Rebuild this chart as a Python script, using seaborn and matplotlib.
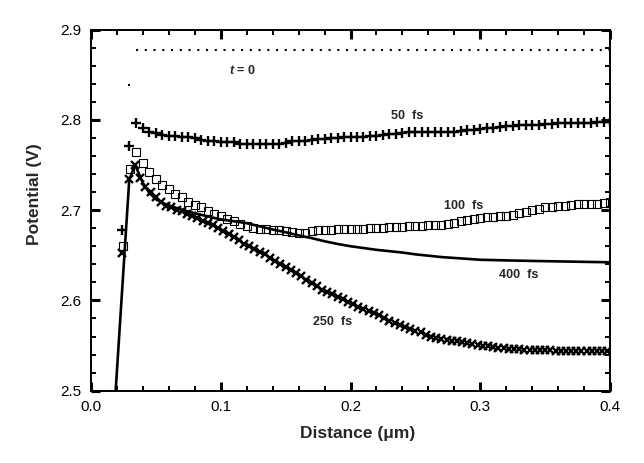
import numpy as np
import seaborn as sns
import matplotlib
matplotlib.use("Agg")
import matplotlib.pyplot as plt
from matplotlib.ticker import MultipleLocator, FormatStrFormatter

# t = 0 reference level
t0_x = [0.035, 0.4]
t0_y = [2.877, 2.877]

# 50 fs (+)
fs50_x = np.round(np.concatenate([[0.024, 0.029], np.arange(0.035, 0.4001, 0.005)]), 3)
fs50_y = [2.678, 2.771,
          2.797, 2.791, 2.787, 2.785, 2.783, 2.782, 2.782, 2.781, 2.781, 2.780,
          2.778, 2.776, 2.776, 2.775, 2.775, 2.775, 2.7735, 2.7733, 2.7733, 2.7733,
          2.7733, 2.773, 2.773, 2.774, 2.776, 2.776, 2.777, 2.778, 2.779, 2.779,
          2.780, 2.780, 2.781, 2.7815, 2.7815, 2.7815, 2.782, 2.7825, 2.783, 2.784,
          2.7845, 2.785, 2.786, 2.786, 2.786, 2.786, 2.786, 2.786, 2.7866, 2.787,
          2.788, 2.789, 2.789, 2.790, 2.791, 2.791, 2.792, 2.793, 2.793, 2.794,
          2.7944, 2.7944, 2.7944, 2.795, 2.7955, 2.796, 2.796, 2.797, 2.797, 2.797,
          2.797, 2.798, 2.798, 2.798]
fs50_dot_x = [0.0294]
fs50_dot_y = [2.839]

# 100 fs (open squares)
fs100_x = np.round(np.arange(0.025, 0.4001, 0.005), 3)
fs100_y = [2.660, 2.745, 2.764, 2.752, 2.742, 2.734, 2.728, 2.723, 2.718, 2.714,
           2.709, 2.706, 2.703, 2.699, 2.696, 2.693, 2.690, 2.688, 2.685, 2.682,
           2.680, 2.679, 2.679, 2.678, 2.678, 2.677, 2.676, 2.675, 2.675, 2.677,
           2.6775, 2.678, 2.6785, 2.679, 2.679, 2.679, 2.679, 2.679, 2.680, 2.680,
           2.6805, 2.681, 2.681, 2.6815, 2.682, 2.682, 2.682, 2.683, 2.683, 2.684,
           2.685, 2.686, 2.688, 2.6895, 2.690, 2.691, 2.692, 2.6925, 2.693, 2.694,
           2.695, 2.6965, 2.698, 2.700, 2.7015, 2.703, 2.7035, 2.704, 2.705, 2.706,
           2.7063, 2.7066, 2.707, 2.7073, 2.708, 2.7085]

# 250 fs (x)
fs250_x = np.round(np.concatenate([[0.024, 0.029, 0.034], np.arange(0.038, 0.3981, 0.004)]), 3)
fs250_y = [2.652, 2.734, 2.750,
           2.736, 2.726, 2.720, 2.714, 2.709, 2.705, 2.703, 2.7005, 2.699, 2.696,
           2.694, 2.691, 2.688, 2.686, 2.683, 2.680, 2.677, 2.674, 2.6705, 2.667,
           2.663, 2.660, 2.657, 2.654, 2.651, 2.647, 2.644, 2.6405, 2.6375, 2.634,
           2.6305, 2.627, 2.6225, 2.619, 2.6155, 2.612, 2.609, 2.607, 2.604, 2.601,
           2.598, 2.5955, 2.593, 2.591, 2.588, 2.586, 2.5835, 2.580, 2.577, 2.5745,
           2.5725, 2.570, 2.568, 2.5665, 2.5645, 2.562, 2.560, 2.5585, 2.5575, 2.5565,
           2.5555, 2.5545, 2.5535, 2.553, 2.552, 2.551, 2.550, 2.549, 2.548, 2.5475,
           2.547, 2.5465, 2.546, 2.5458, 2.5455, 2.5452, 2.545, 2.5448, 2.5447, 2.5446,
           2.5445, 2.5443, 2.5441, 2.544, 2.5439, 2.5438, 2.5437, 2.5436, 2.5436, 2.5435,
           2.5435]

# 400 fs (solid line)
fs400_x = [0.019, 0.0295, 0.034, 0.040, 0.045, 0.050, 0.055, 0.060, 0.070, 0.080,
           0.090, 0.100, 0.110, 0.120, 0.130, 0.140, 0.150, 0.160, 0.170, 0.180,
           0.190, 0.200, 0.210, 0.220, 0.230, 0.240, 0.250, 0.260, 0.270, 0.280,
           0.290, 0.300, 0.320, 0.340, 0.360, 0.380, 0.400]
fs400_y = [2.500, 2.734, 2.750, 2.730, 2.719, 2.712, 2.708, 2.705, 2.7005, 2.6965,
           2.693, 2.6897, 2.6877, 2.6855, 2.682, 2.6785, 2.6755, 2.672, 2.669, 2.6655,
           2.6625, 2.660, 2.658, 2.656, 2.6545, 2.653, 2.651, 2.6495, 2.648, 2.647,
           2.646, 2.645, 2.6443, 2.6437, 2.6432, 2.6427, 2.6422]

sns.set_style("ticks")
plt.rcParams['font.family'] = ['Liberation Sans', 'DejaVu Sans']
plt.rcParams['mathtext.fontset'] = 'custom'
plt.rcParams['mathtext.it'] = 'Liberation Sans:italic:bold'

fig = plt.figure(figsize=(6.44, 4.63), dpi=100)
ax = fig.add_axes([91 / 644, 1 - 390.7 / 463, 519 / 644, 361.2 / 463])

sns.lineplot(x=t0_x, y=t0_y, ax=ax, color='k', lw=1.5, dashes=False,
             linestyle=(0, (1, 3.2)), estimator=None, sort=False)
sns.lineplot(x=fs400_x, y=fs400_y, ax=ax, color='k', lw=1.9, estimator=None, sort=False)
sns.lineplot(x=fs250_x, y=fs250_y, ax=ax, color='k', linestyle='', marker='x',
             markersize=5.2, markeredgewidth=1.7, markeredgecolor='k',
             estimator=None, sort=False)
sns.lineplot(x=fs100_x, y=fs100_y, ax=ax, color='k', linestyle='', marker='s',
             markersize=5.2, markeredgewidth=0.8, markeredgecolor='k',
             markerfacecolor='none', estimator=None, sort=False)
sns.lineplot(x=fs50_x, y=fs50_y, ax=ax, color='k', linestyle='', marker='+',
             markersize=6.5, markeredgewidth=1.7, markeredgecolor='k',
             estimator=None, sort=False)
sns.lineplot(x=fs50_dot_x, y=fs50_dot_y, ax=ax, color='k', linestyle='', marker='s',
             markersize=1.8, markeredgewidth=0, estimator=None, sort=False)

ax.set_xlim(0, 0.4)
ax.set_ylim(2.5, 2.9)
ax.xaxis.set_major_locator(MultipleLocator(0.1))
ax.xaxis.set_minor_locator(MultipleLocator(0.02))
ax.yaxis.set_major_locator(MultipleLocator(0.1))
ax.yaxis.set_minor_locator(MultipleLocator(0.02))
ax.xaxis.set_major_formatter(FormatStrFormatter('%.1f'))
ax.yaxis.set_major_formatter(FormatStrFormatter('%.1f'))
ax.tick_params(which='both', direction='in', top=True, right=True, colors='k',
               labelsize=11)
ax.tick_params(which='major', length=6.5, width=2.2, pad=7)
ax.tick_params(which='minor', length=3.3, width=1.4)
for s in ax.spines.values():
    s.set_linewidth(1.4)
    s.set_color('k')

ax.set_xlabel('Distance (μm)', fontsize=12.5, fontweight='bold')
ax.set_ylabel('Potential (V)', fontsize=12.5, fontweight='bold')
ax.xaxis.set_label_coords(0.514, -0.098)
ax.yaxis.set_label_coords(-0.094, 0.545)

lab = dict(fontsize=9, fontweight='bold', ha='center', va='center')
ax.text(0.1164, 2.855, r'$t$ = 0', **lab)
ax.text(0.244, 2.8043, '50  fs', **lab)
ax.text(0.2873, 2.7048, '100  fs', **lab)
ax.text(0.3295, 2.6284, '400  fs', **lab)
ax.text(0.1861, 2.5765, '250  fs', **lab)

fig.savefig('out.png', dpi=100)
